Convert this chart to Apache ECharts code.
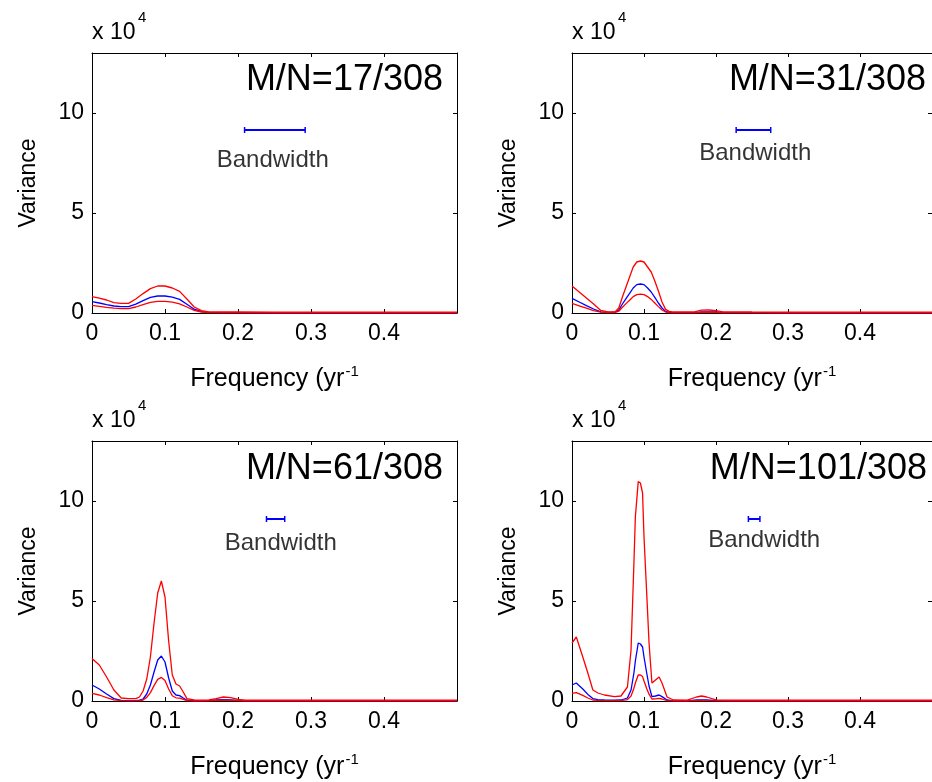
<!DOCTYPE html>
<html><head><meta charset="utf-8">
<script src="https://cdn.jsdelivr.net/npm/echarts@6/dist/echarts.min.js"></script>
<style>html,body{margin:0;padding:0;background:#fff}#c{width:932px;height:782px}</style>
</head><body><div id="c"></div>
<script>
// ---------------- data (variance in units of 10^4) ----------------
const panelTitles = ['M/N=17/308', 'M/N=31/308', 'M/N=61/308', 'M/N=101/308'];
const xTicks = [0, 0.1, 0.2, 0.3, 0.4, 0.5];
const yTicks = [0, 5, 10];

const freq1  = [0,0.01,0.02,0.03,0.04,0.05,0.06,0.07,0.08,0.09,0.1,0.11,0.12,0.13,0.14,0.15,0.16,0.18,0.2,0.25,0.3,0.35,0.4,0.45,0.5];
const upper1 = [0.82,0.74,0.65,0.52,0.48,0.48,0.7,0.97,1.22,1.35,1.35,1.25,1.08,0.7,0.3,0.12,0.06,0.05,0.05,0.04,0.04,0.04,0.04,0.04,0.04];
const est1   = [0.57,0.5,0.42,0.35,0.32,0.32,0.44,0.62,0.78,0.85,0.85,0.79,0.68,0.44,0.19,0.07,0.03,0.02,0.02,0.01,0.01,0.01,0.01,0.01,0.01];
const lower1 = [0.38,0.33,0.28,0.24,0.22,0.22,0.3,0.42,0.53,0.58,0.58,0.54,0.46,0.3,0.13,0.05,0.02,0.01,0.01,0,0,0,0,0,0];

const freq2  = [0,0.01,0.02,0.03,0.04,0.05,0.06,0.065,0.07,0.075,0.08,0.085,0.09,0.095,0.1,0.105,0.11,0.115,0.12,0.125,0.13,0.135,0.14,0.15,0.17,0.18,0.19,0.2,0.21,0.25,0.3,0.35,0.4,0.45,0.5];
const upper2 = [1.35,1.05,0.75,0.45,0.13,0.06,0.07,0.25,0.8,1.3,1.8,2.3,2.55,2.6,2.55,2.3,2.05,1.6,1.1,0.55,0.18,0.08,0.06,0.05,0.06,0.14,0.15,0.12,0.06,0.05,0.04,0.04,0.04,0.04,0.04];
const est2   = [0.73,0.55,0.37,0.2,0.06,0.03,0.04,0.15,0.45,0.72,0.98,1.25,1.42,1.45,1.42,1.25,1.05,0.78,0.5,0.25,0.08,0.03,0.02,0.02,0.02,0.05,0.06,0.05,0.02,0.02,0.01,0.01,0.01,0.01,0.01];
const lower2 = [0.48,0.36,0.24,0.12,0.04,0.02,0.03,0.09,0.29,0.47,0.64,0.82,0.92,0.94,0.92,0.82,0.68,0.5,0.32,0.15,0.05,0.02,0.01,0.01,0.01,0.03,0.04,0.03,0.01,0.01,0,0,0,0,0];

const freq3  = [0,0.01,0.02,0.03,0.04,0.05,0.06,0.065,0.07,0.075,0.08,0.085,0.09,0.095,0.1,0.105,0.11,0.115,0.12,0.125,0.13,0.14,0.15,0.16,0.17,0.18,0.19,0.2,0.21,0.25,0.3,0.35,0.4,0.45,0.5];
const upper3 = [2.13,1.8,1.2,0.55,0.15,0.12,0.12,0.2,0.5,1.1,2.2,3.9,5.4,6.0,5.2,3.0,1.3,0.85,0.75,0.45,0.12,0.05,0.04,0.05,0.12,0.2,0.17,0.08,0.04,0.04,0.04,0.04,0.04,0.04,0.04];
const est3   = [0.8,0.6,0.35,0.12,0.03,0.02,0.02,0.04,0.1,0.35,0.8,1.45,2.05,2.25,1.95,1.15,0.5,0.3,0.27,0.15,0.04,0.01,0.01,0.02,0.05,0.07,0.06,0.03,0.01,0.01,0.01,0.01,0.01,0.01,0.01];
const lower3 = [0.38,0.3,0.17,0.06,0.02,0.01,0.01,0.02,0.05,0.18,0.42,0.77,1.08,1.18,1.02,0.6,0.26,0.16,0.14,0.08,0.02,0,0,0.01,0.03,0.04,0.03,0.02,0,0,0,0,0,0,0];

const freq4  = [0,0.006,0.015,0.022,0.029,0.036,0.045,0.059,0.068,0.077,0.082,0.086,0.088,0.092,0.095,0.098,0.1,0.104,0.107,0.111,0.116,0.121,0.125,0.132,0.141,0.16,0.173,0.18,0.187,0.2,0.22,0.25,0.3,0.35,0.4,0.45,0.5];
const upper4 = [2.9,3.2,2.2,1.4,0.55,0.4,0.3,0.22,0.25,0.7,2.55,6.9,9.2,10.97,10.9,10.4,8.2,5.2,2.9,0.9,1.05,1.2,0.9,0.2,0.05,0.04,0.2,0.25,0.2,0.06,0.04,0.04,0.04,0.04,0.04,0.04,0.04];
const est4   = [0.8,0.9,0.6,0.33,0.12,0.07,0.05,0.04,0.05,0.15,0.55,1.4,2.0,2.9,2.85,2.7,2.2,1.35,0.75,0.22,0.25,0.3,0.22,0.05,0.01,0.01,0.05,0.06,0.05,0.02,0.01,0.01,0.01,0.01,0.01,0.01,0.01];
const lower4 = [0.38,0.42,0.28,0.15,0.05,0.03,0.02,0.02,0.02,0.07,0.25,0.64,0.9,1.3,1.3,1.22,1.0,0.6,0.34,0.1,0.11,0.13,0.1,0.02,0,0,0.02,0.03,0.02,0.01,0,0,0,0,0,0,0];

// bandwidth bars (frequency extent) and their level, label anchor (data units)
const bwStart  = [0.209, 0.228, 0.239, 0.245];
const bwEnd    = [0.292, 0.276, 0.264, 0.261];
const bwLevel  = [9.15, 9.15, 9.1, 9.1];
const bwLabelX = [0.2476, 0.2545, 0.2586, 0.2669];
const bwLabelY = [7.65, 8.0, 7.9, 8.05];

// ---------------- chart ----------------
const FONT = '"Liberation Sans", Arial, sans-serif';
const panels = [
  {f: freq1, u: upper1, e: est1, l: lower1},
  {f: freq2, u: upper2, e: est2, l: lower2},
  {f: freq3, u: upper3, e: est3, l: lower3},
  {f: freq4, u: upper4, e: est4, l: lower4}
];
const gridPos = [
  {left: 92,  top: 53,  width: 365, height: 260},
  {left: 572, top: 53,  width: 364, height: 260},
  {left: 92,  top: 441, width: 365, height: 260},
  {left: 572, top: 441, width: 364, height: 260}
];
const zip = (a, b) => a.map((v, i) => [v, b[i]]);
const xMin = xTicks[0], xMax = xTicks[xTicks.length - 1], xInt = xTicks[1] - xTicks[0];
const yInt = yTicks[1] - yTicks[0];

const grid = [], xAxis = [], yAxis = [], series = [], graphic = [];
const axisCommon = (i) => ({
  type: 'value', gridIndex: i,
  axisLine: {show: true, onZero: false, lineStyle: {color: '#000', width: 1}},
  axisTick: {show: true, inside: true, length: 4, lineStyle: {color: '#000'}},
  splitLine: {show: false}
});
gridPos.forEach((g, i) => {
  grid.push(Object.assign({containLabel: false}, g));
  xAxis.push(Object.assign(axisCommon(i), {
    min: xMin, max: xMax, interval: xInt, position: 'bottom',
    axisLabel: {show: true, showMaxLabel: false, color: '#000', fontSize: 23, fontFamily: FONT, margin: 9},
    name: '{a|Frequency (yr}{b|-1}', nameLocation: 'middle', nameGap: 51,
    nameTextStyle: {rich: {
      a: {fontSize: 25, fontFamily: FONT, color: '#000', verticalAlign: 'bottom'},
      b: {fontSize: 15, fontFamily: FONT, color: '#000', verticalAlign: 'bottom', padding: [0, 0, 13, 1]}
    }}
  }));
  yAxis.push(Object.assign(axisCommon(i), {
    min: 0, max: 13, interval: yInt, position: 'left',
    axisLabel: {show: true, showMaxLabel: false, color: '#000', fontSize: 23, fontFamily: FONT, margin: 8},
    name: 'Variance', nameLocation: 'middle', nameGap: 52,
    nameTextStyle: {fontSize: 23, fontFamily: FONT, color: '#000'}
  }));
});
gridPos.forEach((g, i) => {
  xAxis.push(Object.assign(axisCommon(i), {min: xMin, max: xMax, interval: xInt, position: 'top', axisLabel: {show: false}}));
  yAxis.push(Object.assign(axisCommon(i), {min: 0, max: 13, interval: yInt, position: 'right', axisLabel: {show: false}}));
});

panels.forEach((p, i) => {
  const lineBase = {type: 'line', xAxisIndex: i, yAxisIndex: i, showSymbol: false, symbol: 'none', animation: false, silent: true};
  series.push(Object.assign({}, lineBase, {data: zip(p.f, p.e), lineStyle: {color: '#0000ff', width: 1.3}, z: 3}));
  series.push(Object.assign({}, lineBase, {data: zip(p.f, p.l), lineStyle: {color: '#ff0000', width: 1.3}, z: 4}));
  series.push(Object.assign({}, lineBase, {data: zip(p.f, p.u), lineStyle: {color: '#ff0000', width: 1.3}, z: 4}));
  series.push({
    type: 'custom', xAxisIndex: i, yAxisIndex: i, animation: false, silent: true, z: 5,
    data: [[bwStart[i], bwEnd[i], bwLevel[i]]],
    renderItem: (params, api) => {
      const s = api.coord([api.value(0), api.value(2)]);
      const e = api.coord([api.value(1), api.value(2)]);
      const h = 3;
      return {type: 'group', children: [
        {type: 'line', shape: {x1: s[0], y1: s[1], x2: e[0], y2: e[1]}, style: {stroke: '#0000ff', lineWidth: 2}},
        {type: 'line', shape: {x1: s[0], y1: s[1] - h, x2: s[0], y2: s[1] + h}, style: {stroke: '#0000ff', lineWidth: 1.5}},
        {type: 'line', shape: {x1: e[0], y1: e[1] - h, x2: e[0], y2: e[1] + h}, style: {stroke: '#0000ff', lineWidth: 1.5}}
      ]};
    }
  });
  series.push({
    type: 'scatter', xAxisIndex: i, yAxisIndex: i, animation: false, silent: true, symbolSize: 0, z: 5,
    data: [[bwLabelX[i], bwLabelY[i]]],
    label: {show: true, position: 'inside', formatter: 'Bandwidth', color: '#000', textBorderWidth: 0,
            fontSize: 24, fontFamily: FONT}
  });
});

// panel titles and exponent labels
const titlePos = [[443, 80], [926, 80], [443, 469], [927, 469]];
panelTitles.forEach((t, i) => {
  graphic.push({type: 'text', x: titlePos[i][0], y: titlePos[i][1], silent: true,
    style: {text: t, fill: '#000', font: '36px ' + FONT, textAlign: 'right', textVerticalAlign: 'middle'}});
  const g = gridPos[i];
  graphic.push({type: 'text', x: g.left, y: g.top - 20, silent: true,
    style: {text: 'x 10', fill: '#000', font: '23px ' + FONT, textAlign: 'left', textVerticalAlign: 'middle'}});
  graphic.push({type: 'text', x: g.left + 46, y: g.top - 35, silent: true,
    style: {text: '4', fill: '#000', font: '15px ' + FONT, textAlign: 'left', textVerticalAlign: 'middle'}});
});

const chart = echarts.init(document.getElementById('c'), null, {renderer: 'canvas'});
chart.setOption({
  animation: false,
  backgroundColor: '#fff',
  textStyle: {fontFamily: FONT},
  grid, xAxis, yAxis, series, graphic
});
</script></body></html>
